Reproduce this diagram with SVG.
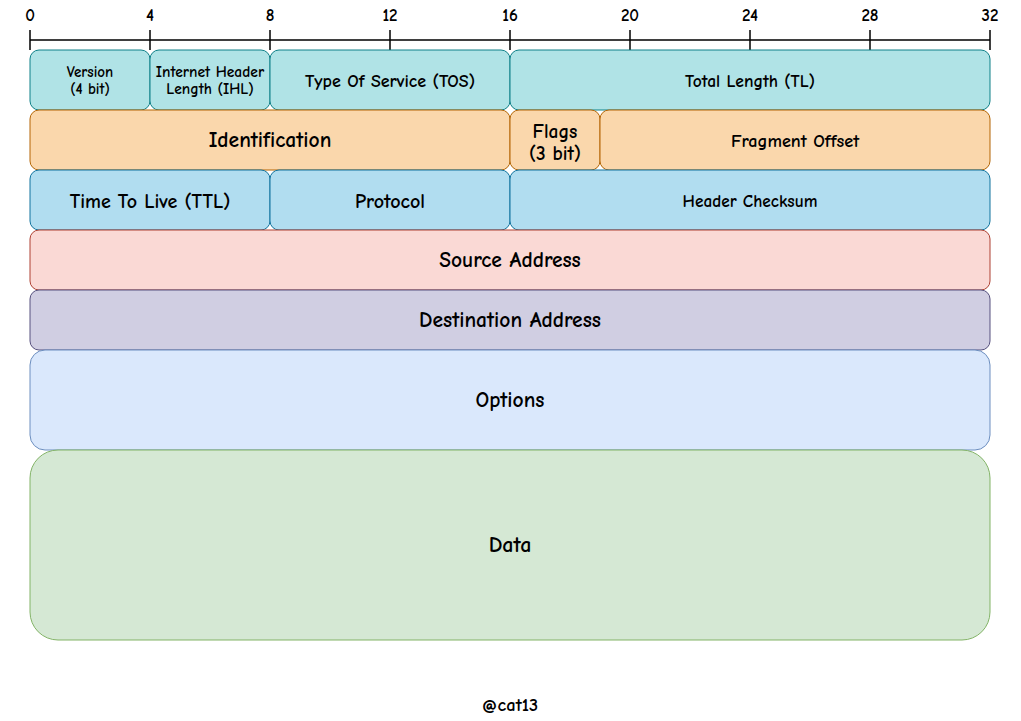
<svg xmlns="http://www.w3.org/2000/svg" width="1021" height="721" viewBox="0 0 1021 721">
<style>
text{font-family:"Comic Sans MS","Comic Neue","Noto Sans","DejaVu Sans",sans-serif;font-weight:bold;fill:#000;text-anchor:middle;dominant-baseline:central}
.scale{stroke:#000;stroke-width:1.5;fill:none}
.c1{fill:#b0e3e6;stroke:#0e8088}
.c2{fill:#fad7ac;stroke:#b46504}
.c3{fill:#b1ddf0;stroke:#10739e}
.c4{fill:#fad9d5;stroke:#ae4132}
.c5{fill:#d0cee2;stroke:#56517e}
.c6{fill:#dae8fc;stroke:#6c8ebf}
.c7{fill:#d5e8d4;stroke:#82b366}
</style>
<rect width="1021" height="721" fill="#fff"/>
<g id="scale">
<path class="scale" d="M30 40H990M30 30V50M150 30V50M270 30V50M390 30V50M510 30V50M630 30V50M750 30V50M870 30V50M990 30V50"/>
<g font-size="17">
<text x="30" y="15">0</text><text x="150" y="15">4</text><text x="270" y="15">8</text><text x="390" y="15">12</text><text x="510" y="15">16</text><text x="630" y="15">20</text><text x="750" y="15">24</text><text x="870" y="15">28</text><text x="990" y="15">32</text>
</g>
</g>
<g id="version"><rect class="c1" x="30" y="50" width="120" height="60" rx="9"/><text x="90" y="72" font-size="15">Version</text><text x="90" y="89" font-size="15">(4 bit)</text></g>
<g id="ihl"><rect class="c1" x="150" y="50" width="120" height="60" rx="9"/><text x="210" y="72" font-size="15.5">Internet Header</text><text x="210" y="89" font-size="15.5">Length (IHL)</text></g>
<g id="tos"><rect class="c1" x="270" y="50" width="240" height="60" rx="9"/><text x="390" y="81" font-size="18">Type Of Service (TOS)</text></g>
<g id="tl"><rect class="c1" x="510" y="50" width="480" height="60" rx="9"/><text x="750" y="81" font-size="17.5">Total Length (TL)</text></g>
<g id="identification"><rect class="c2" x="30" y="110" width="480" height="60" rx="9"/><text x="270" y="140" font-size="21.5">Identification</text></g>
<g id="flags"><rect class="c2" x="510" y="110" width="90" height="60" rx="9"/><text x="555" y="131" font-size="19.5">Flags</text><text x="555" y="153" font-size="19.5">(3 bit)</text></g>
<g id="fragment"><rect class="c2" x="600" y="110" width="390" height="60" rx="9"/><text x="795" y="141" font-size="18.2">Fragment Offset</text></g>
<g id="ttl"><rect class="c3" x="30" y="170" width="240" height="60" rx="9"/><text x="150" y="201" font-size="20">Time To Live (TTL)</text></g>
<g id="protocol"><rect class="c3" x="270" y="170" width="240" height="60" rx="9"/><text x="390" y="201" font-size="20">Protocol</text></g>
<g id="checksum"><rect class="c3" x="510" y="170" width="480" height="60" rx="9"/><text x="750" y="201" font-size="17.3">Header Checksum</text></g>
<g id="source"><rect class="c4" x="30" y="230" width="960" height="60" rx="9"/><text x="510" y="260" font-size="21.5">Source Address</text></g>
<g id="destination"><rect class="c5" x="30" y="290" width="960" height="60" rx="9"/><text x="510" y="320" font-size="21.5">Destination Address</text></g>
<g id="options"><rect class="c6" x="30" y="350" width="960" height="100" rx="15"/><text x="510" y="400" font-size="21.5">Options</text></g>
<g id="data"><rect class="c7" x="30" y="450" width="960" height="190" rx="28"/><text x="510" y="545" font-size="22">Data</text></g>
<g id="credit"><text x="510" y="705" font-size="18.5">@cat13</text></g>
<g id="connectors"></g>
</svg>
